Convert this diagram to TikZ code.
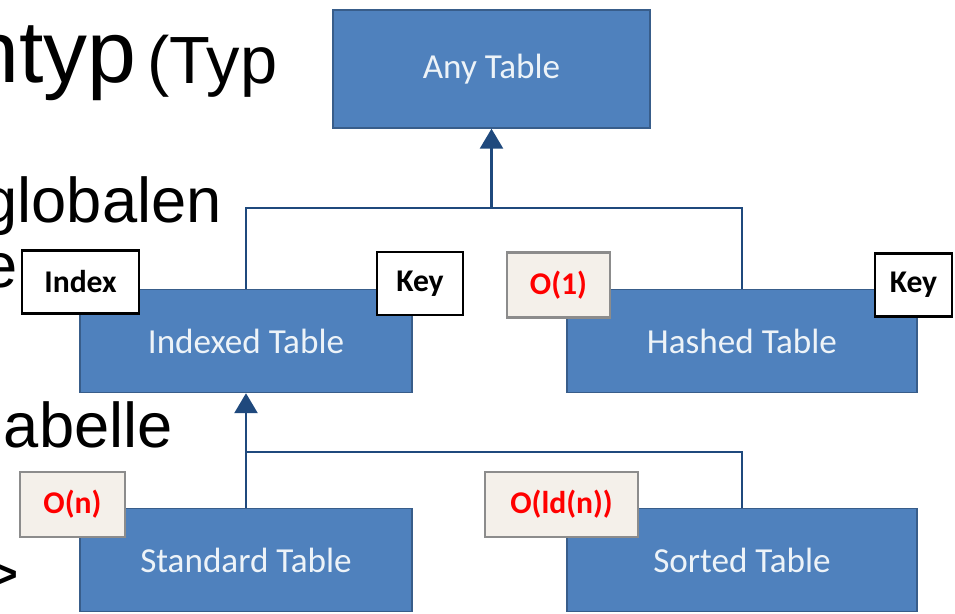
\documentclass[tikz,border=0pt]{standalone}
\usepackage{fontspec}
\setmainfont{Liberation Sans}
\newfontfamily\boxfont{Carlito}
\usetikzlibrary{arrows.meta}
\definecolor{tblue}{HTML}{4F81BD}
\definecolor{tedge}{HTML}{385D8A}
\definecolor{linkblue}{HTML}{1F497D}
\definecolor{tagfill}{HTML}{F4F0EA}
\definecolor{taggrey}{HTML}{8C8C8C}
\definecolor{tagred}{HTML}{FF0000}

\begin{document}
\begin{tikzpicture}[x=0.02cm,y=-0.02cm,>={Triangle[width=0.46cm,length=0.4cm]},
  table/.style={draw=tedge,line width=0.8pt,fill=tblue,text=white!90!tblue,
    font=\boxfont\fontsize{20}{24}\selectfont,minimum height=2.06cm},
  keytag/.style={draw=black,line width=1.6pt,fill=white,
    font=\boxfont\bfseries\fontsize{18}{22}\selectfont,minimum height=1.26cm},
  costtag/.style={draw=taggrey,line width=1.6pt,fill=tagfill,text=tagred,
    font=\boxfont\bfseries\fontsize{18}{22}\selectfont,minimum height=1.3cm},
  link/.style={draw=linkblue,line width=1.5pt},
  slide/.style={inner sep=0pt,font=\fontsize{36}{43}\selectfont}]
\useasboundingbox (0,0) rectangle (955,613);
\clip (0,0) rectangle (955,613);

% slide text behind the diagram
\node[slide,anchor=base east,font=\fontsize{50}{60}\selectfont] (ttl) at (137,82) {ntyp};
\node[slide,anchor=base west,font=\fontsize{38}{46}\selectfont] (ttltyp) at (147,83) {(Typ};
\node[slide,anchor=base east] (glob) at (222,222) {globalen};
\node[slide,anchor=base east] (ee) at (18,287) {e};
\node[slide,anchor=base east] (tab) at (173,447) {abelle};
\node[slide,anchor=east] (gt) at (20,577) {>};

% tables
\node[table,minimum width=6.34cm,minimum height=2.36cm] (any) at (491.5,69) {Any Table};
\node[table,minimum width=6.64cm] (indexed) at (246,341) {Indexed Table};
\node[table,minimum width=7cm] (hashed) at (742,341) {Hashed Table};
\node[table,minimum width=6.64cm] (standard) at (246,560) {Standard Table};
\node[table,minimum width=7cm] (sorted) at (742,560) {Sorted Table};

% inheritance
\coordinate (j1) at (491.5,208);
\coordinate (j2) at (246,452);
\draw[link] (indexed.north) |- (j1) -| (hashed.north);
\draw[link,->] (j1) -- (any.south);
\draw[link] (j2) -| (sorted.north);
\draw[link,->] (standard.north) -- (indexed.south);

% tags
\node[keytag,minimum width=2.34cm] (idx) at (80.5,282) {Index};
\node[keytag,minimum width=1.72cm] (key1) at (420,283.5) {Key};
\node[costtag,minimum width=2.06cm] (o1) at (558.5,285) {O(1)};
\node[keytag,minimum width=1.54cm] (key2) at (913.5,285) {Key};
\node[costtag,minimum width=2.1cm] (on) at (72.5,504.5) {O(n)};
\node[costtag,minimum width=3.06cm] (old) at (561.5,504.5) {O(ld(n))};
\end{tikzpicture}
\end{document}
